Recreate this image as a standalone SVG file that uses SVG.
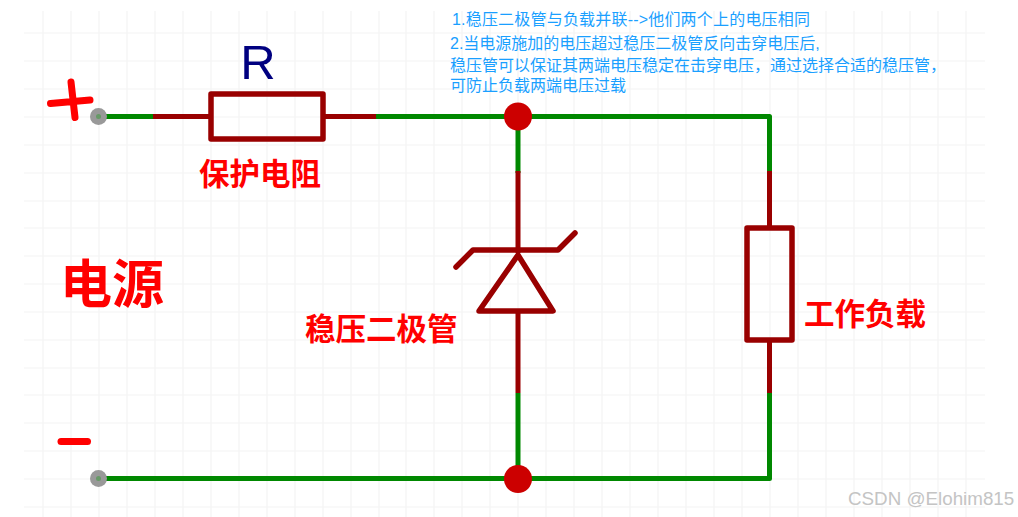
<svg xmlns="http://www.w3.org/2000/svg" width="1018" height="517" viewBox="0 0 1018 517">
<style>
.grid{fill:none;stroke:#f4f4f4;stroke-width:1.2}
.wire{fill:none;stroke:#008800;stroke-width:5;stroke-linejoin:round;stroke-linecap:butt}
.sym{fill:none;stroke:#990000;stroke-width:5.500;stroke-linejoin:round;stroke-linecap:round}
.lead{fill:none;stroke:#990000;stroke-width:5;stroke-linecap:butt}
.mark{fill:none;stroke:#ff0000;stroke-width:7;stroke-linecap:round}
.dot{fill:#cc0000}
.pin{fill:#999999}
.pinc{fill:#669966}
.lbl{font-family:"Noto Sans CJK SC","Liberation Sans",sans-serif;font-weight:700;fill:#ff0000}
.note{font-family:"Liberation Sans","Noto Sans CJK SC",sans-serif;font-size:16px;fill:#1a9fff}
</style>
<rect width="1018" height="517" fill="#ffffff"/>
<path class="grid" d="M43 11V517M71 11V517M99 11V517M127 11V517M155 11V517M183 11V517M211 11V517M239 11V517M267 11V517M295 11V517M323 11V517M351 11V517M379 11V517M406 11V517M434 11V517M462 11V517M490 11V517M518 11V517M546 11V517M574 11V517M602 11V517M630 11V517M658 11V517M686 11V517M714 11V517M742 11V517M770 11V517M798 11V517M826 11V517M854 11V517M882 11V517M910 11V517M938 11V517M966 11V517M24 33H985M24 61H985M24 89H985M24 117H985M24 145H985M24 173H985M24 201H985M24 228H985M24 256H985M24 284H985M24 312H985M24 340H985M24 368H985M24 395H985M24 423H985M24 451H985M24 479H985M24 507H985"/>
<g id="connectors">
<path class="wire" d="M99 116.500H153"/>
<path class="wire" d="M376 116.500H769.500V171"/>
<path class="wire" d="M518 116.500V173"/>
<path class="wire" d="M518 393V479"/>
<path class="wire" d="M99 478.500H769.500V393"/>
</g>
<g id="resistor-r">
<path class="lead" d="M153 116.500H211M323 116.500H376"/>
<rect class="sym" x="211" y="94" width="112" height="45"/>
<text x="258" y="79" font-family="Liberation Sans,sans-serif" font-size="49" fill="#000080" text-anchor="middle">R</text>
</g>
<g id="zener">
<path class="lead" d="M518 171V253M518 311V393"/>
<path class="sym" d="M456 267L473 250H558L575 233"/>
<path class="sym" d="M518 255L553 311H479Z"/>
</g>
<g id="load">
<path class="lead" d="M769.500 171V228M769.500 340V393"/>
<rect class="sym" x="747" y="228" width="45" height="112"/>
</g>
<g id="junction-top"><circle class="dot" cx="518" cy="116.500" r="14"/></g>
<g id="junction-bottom"><circle class="dot" cx="518" cy="479" r="14"/></g>
<g id="terminal-plus">
<circle class="pin" cx="98.500" cy="116.500" r="8.500"/><circle class="pinc" cx="98.500" cy="116.500" r="2.500"/>
<path class="mark" d="M50.500 103.500L90 100M71 82L75 117.500"/>
</g>
<g id="terminal-minus">
<circle class="pin" cx="98.500" cy="478.500" r="8.500"/><circle class="pinc" cx="98.500" cy="478.500" r="2.500"/>
<path class="mark" d="M61 441.500H87.500"/>
</g>
<text class="lbl" x="199" y="185" font-size="30.500">保护电阻</text>
<text class="lbl" x="60" y="303" font-size="52">电源</text>
<text class="lbl" x="305" y="340" font-size="30.500">稳压二极管</text>
<text class="lbl" x="804" y="325" font-size="30.500">工作负载</text>
<g id="notes">
<text class="note" x="452" y="25" textLength="358">1.稳压二极管与负载并联--&gt;他们两个上的电压相同</text>
<text class="note" x="450" y="49">2.当电源施加的电压超过稳压二极管反向击穿电压后,</text>
<text class="note" x="450" y="71">稳压管可以保证其两端电压稳定在击穿电压，通过选择合适的稳压管，</text>
<text class="note" x="450" y="91">可防止负载两端电压过载</text>
</g>
<text x="848" y="505" font-family="Liberation Sans,sans-serif" font-size="18.800" fill="#c4c4c4">CSDN @Elohim815</text>
</svg>
